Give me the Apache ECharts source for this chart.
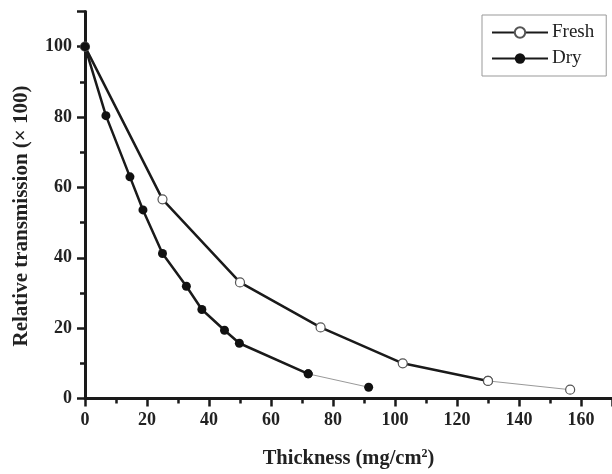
<!DOCTYPE html>
<html>
<head>
<meta charset="utf-8">
<script src="https://cdn.jsdelivr.net/npm/echarts@6/dist/echarts.min.js"></script>
<style>html,body{margin:0;padding:0;background:#fff}#c{width:612px;height:474px}</style>
</head>
<body>
<div id="c"></div>
<script>
const freshX = [0, 25, 50, 76, 102.5, 130, 156.5];
const freshY = [100, 56.6, 33, 20.2, 10, 5, 2.5];
const dryX = [0, 6.75, 14.5, 18.7, 25, 32.7, 37.7, 45, 49.8, 72, 91.5];
const dryY = [100, 80.4, 63, 53.6, 41.2, 31.9, 25.3, 19.4, 15.7, 7, 3.2];
const seriesNames = ['Fresh', 'Dry'];
const xTitle = 'Thickness (mg/cm{sup|2})';
const yTitle = 'Relative transmission (× 100)';

const pairs = (xs, ys) => xs.map((x, i) => [x, ys[i]]);
const fresh = pairs(freshX, freshY);
const dry = pairs(dryX, dryY);
const freshMain = fresh.slice(0, 6), freshTail = fresh.slice(5);
const dryMain = dry.slice(0, 10), dryTail = dry.slice(9);

const serif = '"Liberation Serif", "DejaVu Serif", serif';
const openStyle = {color: '#fff', borderColor: '#555', borderWidth: 1.2};
const fillStyle = {color: '#111', borderColor: '#111', borderWidth: 0};

const chart = echarts.init(document.getElementById('c'));
chart.setOption({
  animation: false,
  backgroundColor: '#fff',
  grid: {left: 85, top: 11.5, width: 529, height: 390.5},
  legend: {
    data: seriesNames,
    orient: 'vertical',
    left: 482, top: 15,
    padding: [8, 12, 8, 9],
    itemGap: 7,
    itemWidth: 56, itemHeight: 13,
    borderColor: '#999', borderWidth: 1,
    textStyle: {fontFamily: serif, fontSize: 19, color: '#222', padding: [0, 0, 0, -1]}
  },
  xAxis: {
    type: 'value', min: 0, max: 170, interval: 20,
    name: xTitle, nameLocation: 'middle', nameGap: 49,
    nameTextStyle: {fontFamily: serif, fontSize: 20.5, fontWeight: 'bold', color: '#222',
      rich: {sup: {fontFamily: serif, fontSize: 12, fontWeight: 'bold', color: '#222', verticalAlign: 'top', padding: [0, 0, 10, 0]}}},
    axisLine: {lineStyle: {color: '#1a1a1a', width: 3}},
    axisTick: {inside: false, length: 8, lineStyle: {color: '#1a1a1a', width: 2.5}},
    minorTick: {show: true, splitNumber: 2, length: 5, lineStyle: {color: '#1a1a1a', width: 2.5}},
    axisLabel: {fontFamily: serif, fontSize: 18, fontWeight: 'bold', color: '#222', margin: 13, showMaxLabel: false},
    splitLine: {show: false}
  },
  yAxis: {
    type: 'value', min: 0, max: 110, interval: 20,
    name: yTitle, nameLocation: 'middle', nameGap: 53, nameRotate: 90,
    nameTextStyle: {fontFamily: serif, fontSize: 21, fontWeight: 'bold', color: '#222', padding: [0, 22, 0, 0]},
    axisLine: {lineStyle: {color: '#1a1a1a', width: 3}},
    axisTick: {inside: false, length: 8, lineStyle: {color: '#1a1a1a', width: 2.5}},
    minorTick: {show: true, splitNumber: 2, length: 5, lineStyle: {color: '#1a1a1a', width: 2.5}},
    axisLabel: {fontFamily: serif, fontSize: 18, fontWeight: 'bold', color: '#222', margin: 13, showMaxLabel: false},
    splitLine: {show: false}
  },
  series: [
    {name: 'FreshTail', type: 'line', data: freshTail, symbol: 'circle', symbolSize: 9,
     lineStyle: {color: '#999', width: 1}, itemStyle: openStyle},
    {name: 'DryTail', type: 'line', data: dryTail, symbol: 'circle', symbolSize: 9,
     lineStyle: {color: '#999', width: 1}, itemStyle: fillStyle},
    {name: 'Fresh', type: 'line', data: freshMain, symbol: 'circle', symbolSize: 9,
     lineStyle: {color: '#1a1a1a', width: 2.5}, itemStyle: openStyle},
    {name: 'Dry', type: 'line', data: dryMain, symbol: 'circle', symbolSize: 9,
     lineStyle: {color: '#1a1a1a', width: 2.5}, itemStyle: fillStyle}
  ]
});
</script>
</body>
</html>
